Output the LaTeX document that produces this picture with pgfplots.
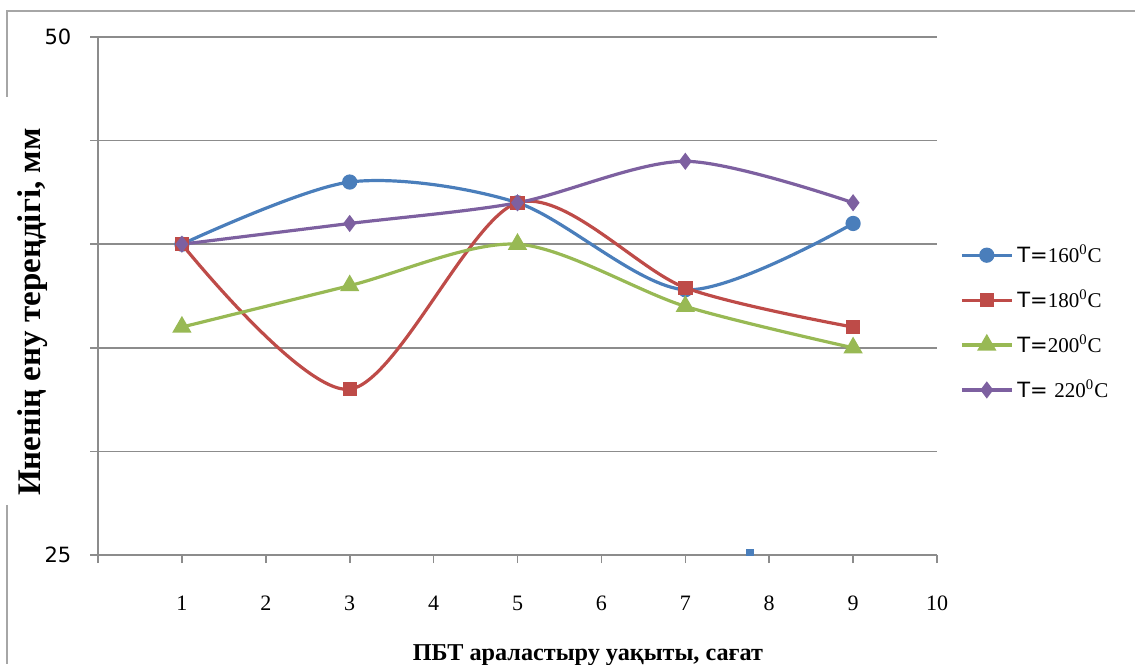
\documentclass[border=0pt]{standalone}
\usepackage{pgfplots}
\pgfplotsset{compat=1.18}
\usepackage{fontspec}
\setmainfont{Liberation Serif}
\setsansfont{DejaVu Sans}

\definecolor{s1}{HTML}{4A7EBB}
\definecolor{s2}{HTML}{BE4B48}
\definecolor{s3}{HTML}{98B954}
\definecolor{s4}{HTML}{7D60A0}
\definecolor{gridc}{HTML}{8C8C8C}
\definecolor{framec}{HTML}{A6A6A6}

\begin{document}
\begin{tikzpicture}
\useasboundingbox (-49pt,-54.5pt) rectangle (518.5pt,277.5pt);
% outer frame fragments
\draw[framec, line width=1pt] (-45.5pt,229pt) -- (-45.5pt,272pt) -- (518.5pt,272pt);
\draw[framec, line width=1pt] (-45.5pt,25pt) -- (-45.5pt,-54.5pt);
\begin{axis}[
  at={(0,0)}, anchor=south west,
  width=419.5pt, height=259pt, scale only axis,
  xmin=0, xmax=10, ymin=25, ymax=50,
  clip=false,
  axis x line*=bottom, axis y line*=left,
  axis line style={gridc, line width=0.8pt},
  xtick={0,...,10}, xticklabels={,1,2,3,4,5,6,7,8,9,10},
  ytick={25,30,...,50}, yticklabels={25,,,,,50},
  tick align=outside, major tick length=4pt,
  tick style={gridc, line width=0.8pt},
  ymajorgrids, grid style={gridc, line width=0.8pt},
  /pgf/number format/assume math mode=true,
  xticklabel style={font=\fontsize{11}{13}\selectfont, anchor=center, yshift=-20pt},
  yticklabel style={font=\sffamily\fontsize{10.5}{12}\selectfont, anchor=center, xshift=-16pt},
  xlabel={ПБТ араластыру уақыты, сағат},
  xlabel style={at={(axis description cs:0.584,-0.193)}, anchor=center,
    font=\bfseries\fontsize{12.1}{14}\selectfont},
  ylabel={Иненің ену тереңдігі, мм},
  ylabel style={at={(axis description cs:-0.0775,0.469)}, anchor=center,
    font=\bfseries\fontsize{16.5}{20}\selectfont},
  legend style={at={(axis description cs:1.02,0.615)}, anchor=north west,
    draw=none, fill=none, font=\sffamily\fontsize{10.5}{12}\selectfont,
    row sep=8.1pt},
  legend cell align=left,
  legend image code/.code={\draw[mark repeat=2, mark phase=2]
    plot coordinates {(0pt,0pt) (12.5pt,0pt) (25pt,0pt)};},
  every axis plot/.append style={line width=1.6pt, smooth},
]
\addplot[s1, mark=*, mark size=3pt, mark options={solid}]
  coordinates {(1,40) (3,43) (5,42) (7,37.8) (9,41)};
\addlegendentry{T=\textrm{160\textsuperscript{0}C}}
\addplot[s2, mark=square*, mark size=2.8pt, mark options={solid}]
  coordinates {(1,40) (3,33) (5,42) (7,37.9) (9,36)};
\addlegendentry{T=\textrm{180\textsuperscript{0}C}}
\addplot[s3, mark=triangle*, mark size=4pt, mark options={solid}]
  coordinates {(1,36) (3,38) (5,40) (7,37) (9,35)};
\addlegendentry{T=\textrm{200\textsuperscript{0}C}}
\addplot[s4, mark=diamond*, mark size=3pt, mark options={solid}]
  coordinates {(1,40) (3,41) (5,42) (7,44) (9,42)};
\addlegendentry{T= \textrm{220\textsuperscript{0}C}}
% small stray point near the x axis
\addplot[s1, only marks, mark=square*, mark size=1pt, forget plot]
  coordinates {(7.77,25.12)};
\end{axis}
\end{tikzpicture}
\end{document}
